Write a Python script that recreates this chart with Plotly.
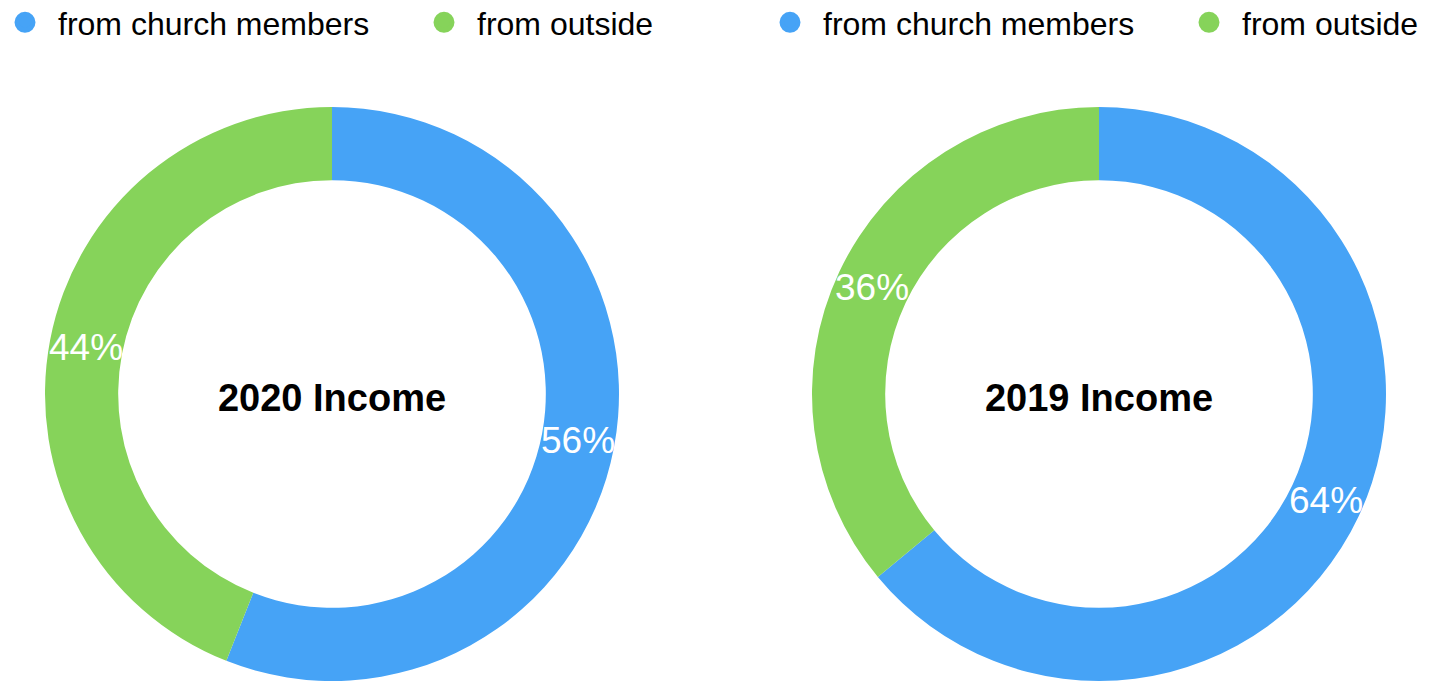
import math
import plotly.graph_objects as go

categories = ["from church members", "from outside"]
values_2020 = [56, 44]
values_2019 = [64, 36]
titles = ["2020 Income", "2019 Income"]
colors = ["#46a3f6", "#86d35a"]

W, H = 1441, 681
TOP = 107
HOLE = 0.745
FONT = "Liberation Sans, Arial, Helvetica, sans-serif"

domains = [[45 / W, 619 / W], [812 / W, 1386 / W]]

fig = go.Figure()
annotations = []
plot_h = H - TOP
for vals, title, dom in zip([values_2020, values_2019], titles, domains):
    fig.add_trace(go.Pie(
        labels=categories, values=vals, sort=False, direction="clockwise",
        rotation=0, hole=HOLE, marker=dict(colors=colors, line=dict(width=0)),
        textinfo="none", hoverinfo="label+percent", showlegend=False,
        domain=dict(x=dom, y=[0, 1]),
        title=dict(text="<b>" + title + "</b>", position="middle center",
                   font=dict(size=38, color="#000", family=FONT)),
    ))
    # percent labels at slice mid-angle, mid ring radius
    cx = (dom[0] + dom[1]) / 2 * W
    cy = plot_h / 2
    r_out = min((dom[1] - dom[0]) * W, plot_h) / 2
    r_mid = r_out * (1 + HOLE) / 2
    total = sum(vals)
    acc = 0
    for v in vals:
        mid = (acc + v / 2) / total * 2 * math.pi
        acc += v
        px = cx + r_mid * math.sin(mid)
        py = cy + r_mid * math.cos(mid)
        annotations.append(dict(
            x=px / W, y=py / plot_h, xref="paper", yref="paper",
            text=f"{round(v / total * 100)}%", showarrow=False,
            font=dict(size=37, color="white", family=FONT),
            xanchor="center", yanchor="middle",
        ))

# legend entries (circle markers) for each chart
for lg in ["legend", "legend2"]:
    for cat, col in zip(categories, colors):
        fig.add_trace(go.Scatter(
            x=[None], y=[None], mode="markers", name=cat, legend=lg,
            marker=dict(size=16, color=col, symbol="circle",
                        line=dict(width=5, color=col)),
            showlegend=True, hoverinfo="skip",
        ))

legend_y = 1 + (TOP + 5) / plot_h
legend_common = dict(
    orientation="h", yref="paper", y=legend_y, yanchor="top", xref="paper",
    xanchor="left", font=dict(size=32, color="#000", family=FONT),
    entrywidth=348, bgcolor="rgba(0,0,0,0)", itemwidth=56,
)
fig.update_layout(
    width=W, height=H,
    margin=dict(l=0, r=0, t=TOP, b=0, autoexpand=False),
    paper_bgcolor="white", plot_bgcolor="white",
    xaxis=dict(visible=False), yaxis=dict(visible=False),
    legend=dict(x=-8 / W, **legend_common),
    legend2=dict(x=757 / W, **legend_common),
    annotations=annotations,
)

fig.write_html("out.html", config={"displayModeBar": False},
               post_script="document.body.style.margin='0px';")
